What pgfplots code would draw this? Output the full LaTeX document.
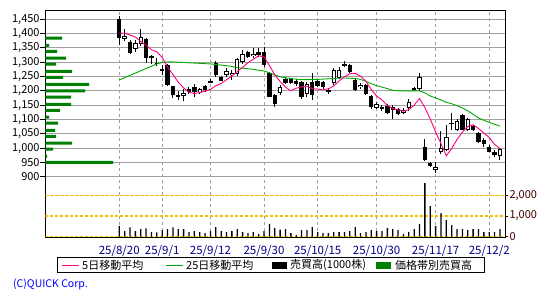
\documentclass[border=0pt]{standalone}
\usepackage{fontspec}
\setmainfont{Noto Sans CJK JP}
\usepackage{pgfplots}
\usepackage{pgfplotstable}
\pgfplotsset{compat=1.18}
\definecolor{ma5}{RGB}{255,0,128}
\definecolor{ma25}{RGB}{0,170,0}
\definecolor{histg}{RGB}{0,128,0}
\definecolor{gridg}{RGB}{160,160,160}
\definecolor{ylw}{RGB}{250,190,0}
\definecolor{datec}{RGB}{0,0,140}
\definecolor{copyc}{RGB}{0,0,255}
\definecolor{volax}{RGB}{64,0,0}
\pgfplotstableread{
x o h l c m5 m25 v
0 1450 1461 1360 1383 1402 1238 515
1 1382 1415 1375 1393 1401 1246 274
2 1372 1378 1328 1333 1395 1254 450
3 1347 1378 1337 1366 1388 1262 274
4 1362 1416 1355 1388 1372.6 1270 370
5 1381 1385 1296 1315 1359 1278 400
6 1321 1325 1295 1317 1343.8 1286 225
7 1299 1315 1287 1295 1336.2 1294 210
8 1276 1290 1255 1269 1316.8 1299 322
9 1290 1295 1218 1220 1283.2 1301 370
10 1216 1218 1175 1186 1257.4 1301 450
11 1185 1198 1168 1182 1230.4 1300 370
12 1181 1208 1165 1194 1210.2 1299 370
13 1206 1212 1188 1195 1195.4 1298 225
14 1212 1225 1178 1195 1190.4 1297 274
15 1195 1210 1190 1205 1194.2 1296 225
16 1217 1222 1195 1203 1198.4 1295 177
17 1234 1240 1226 1228 1205.2 1294 274
18 1297 1303 1250 1257 1217.6 1292 467
19 1249 1252 1233 1236 1225.8 1290 274
20 1254 1280 1248 1270 1238.8 1288 225
21 1255 1272 1238 1264 1251 1285 274
22 1259 1314 1252 1310 1267.4 1281 370
23 1302 1343 1295 1329 1281.8 1279 225
24 1334 1340 1313 1318 1298.2 1277 177
25 1320 1349 1315 1330 1310.2 1275 225
26 1336 1350 1318 1325 1322.4 1272 129
27 1337 1352 1285 1290 1318.4 1269 274
28 1261 1265 1178 1180 1288.6 1263 612
29 1185 1190 1145 1154 1255.8 1256 419
30 1191 1222 1185 1212 1232.2 1249 338
31 1243 1248 1224 1228 1212.8 1246 370
32 1242 1246 1224 1228 1200.4 1243 177
33 1236 1240 1218 1224 1209.2 1241 80
34 1232 1236 1172 1178 1214 1239 322
35 1190 1232 1180 1224 1216.4 1239 322
36 1230 1261 1168 1185 1207.8 1240 467
37 1235 1240 1212 1218 1205.8 1240 225
38 1232 1236 1208 1212 1203.4 1241 177
39 1203 1210 1190 1196 1207 1242 177
40 1228 1280 1222 1273 1216.8 1243 225
41 1246 1282 1240 1274 1234.6 1245 225
42 1294 1304 1285 1290 1249 1245 225
43 1290 1295 1264 1266 1259.8 1244 274
44 1237 1242 1200 1204 1261.4 1243 467
45 1212 1226 1208 1221 1251 1240 177
46 1220 1224 1185 1188 1233.8 1233 225
47 1182 1186 1135 1142 1204.2 1225 322
48 1140 1160 1135 1155 1182 1218 274
49 1142 1150 1128 1136 1168.4 1213 274
50 1148 1155 1120 1124 1149 1208 419
51 1145 1152 1100 1134 1138.2 1202 370
52 1136 1140 1115 1118 1133.4 1200 322
53 1122 1140 1118 1134 1129.2 1200 129
54 1140 1172 1130 1160 1134 1200 225
55 1210 1214 1198 1205 1150.2 1200 370
56 1205 1262 1198 1249 1173.2 1200 612
57 1003 1032 955 958 1141.2 1193 2593
58 949 952 935 936 1101.6 1182 1481
59 924 952 912 935 1056.6 1175 515
60 988 1060 980 1000 1015.6 1168 1143
61 993 1081 990 1037 973.2 1160 805
62 1089 1124 1063 1085 998.6 1155 564
63 1064 1100 1060 1094 1030.2 1148 370
64 1116 1120 1062 1064 1056 1140 370
65 1063 1105 1058 1100 1076 1130 322
66 1077 1080 1060 1064 1081.4 1118 370
67 1052 1055 1018 1020 1068.4 1105 370
68 1028 1035 1005 1014 1052.4 1097 225
69 1005 1010 985 988 1037.2 1090 225
70 988 995 970 977 1012.6 1083 225
71 972 1000 960 996 999 1077 370
}\data
\pgfplotsset{myframe/.style={at={(45.3bp,-237bp)}, anchor=south west, width=460bp, height=226.7bp, scale only axis}}
\begin{document}
\begin{tikzpicture}
\useasboundingbox (0,0) rectangle (550bp,-300bp);
\fill[white] (0,0) rectangle (550bp,-300bp);
\begin{axis}[myframe, xmin=-13.8, xmax=72, ymin=689.3, ymax=1481.4,
  axis line style={black, line width=1bp},
  xtick={0,8,17,27,37,48,59,69},
  xticklabels={25/8/20,25/9/1,25/9/12,25/9/30,25/10/15,25/10/30,25/11/17,25/12/2},
  xtick pos=bottom, ytick pos=left,
  ytick={900,950,...,1450},
  yticklabels={900,950,{1,000},{1,050},{1,100},{1,150},{1,200},{1,250},{1,300},{1,350},{1,400},{1,450}},
  xmajorgrids, ymajorgrids,
  x grid style={gridg, dash pattern=on 3bp off 3bp, line width=0.9bp},
  y grid style={gridg, line width=0.9bp},
  tick align=outside, major tick length=5bp,
  xtick style={draw=none},
  ytick style={black, line width=0.9bp},
  yticklabel style={font=\fontsize{11bp}{13bp}\selectfont, text=black, inner xsep=0.5bp},
  xticklabel style={font=\fontsize{11.5bp}{13bp}\selectfont, text=datec},
]
% wicks
\addplot[draw=none, mark=none, error bars/.cd, y dir=both, y explicit, error mark=none,
  error bar style={draw=black, solid, line width=1bp}]
  table[x=x, y expr={(\thisrow{h}+\thisrow{l})/2}, y error expr={(\thisrow{h}-\thisrow{l})/2}] {\data};
% bodies
\addplot[draw=none, mark=none, error bars/.cd, y dir=both, y explicit, error mark=none,
  error bar style={draw=black, solid, line width=4.4bp}]
  table[x=x, y expr={(\thisrow{o}+\thisrow{c})/2}, y error expr={max(abs(\thisrow{o}-\thisrow{c})/2,1.8)}] {\data};
% white fill of rising candles
\addplot[draw=none, mark=none, error bars/.cd, y dir=both, y explicit, error mark=none,
  error bar style={draw=white, solid, line width=2.4bp}]
  table[x=x, y expr={(\thisrow{o}+\thisrow{c})/2}, y error expr={\thisrow{c}>\thisrow{o} ? max((\thisrow{c}-\thisrow{o})/2-3.5,0) : 0}] {\data};
\addplot[ma25, line width=0.9bp, mark=none] table[x=x, y=m25] {\data};
\addplot[ma5, line width=0.9bp, mark=none] table[x=x, y=m5] {\data};
\end{axis}
\begin{axis}[myframe, hide axis, xmin=0, xmax=460, ymin=689.3, ymax=1481.4]
\addplot[xbar, bar width=3bp, bar shift=0pt, fill=histg, draw=none] coordinates {
(16.7,1384) (3.7,1359) (11.7,1338) (20.7,1314) (10.7,1293) (26.7,1268) (17.7,1247)
(43.7,1223) (39.7,1200) (25.7,1178) (25.7,1153) (14.7,1132) (3.7,1108) (12.7,1087)
(9.7,1062) (10.7,1041) (26.7,1017) (7.7,996) (1.7,971) (67.7,950)};
\end{axis}
\begin{axis}[myframe, xmin=-13.8, xmax=72, ymin=-15, ymax=10937,
  axis x line=none, axis y line*=right,
  axis line style={black, line width=1bp},
  scaled y ticks=false,
  ytick={0,1000,2000}, yticklabels={0,{1,000},{2,000}},
  tick align=outside, major tick length=3bp,
  ytick style={volax, line width=0.9bp},
  yticklabel style={font=\fontsize{11bp}{13bp}\selectfont, text=volax, inner xsep=1bp},
]
\addplot[ylw, line width=1.4bp, dash pattern=on 3bp off 2bp, mark=none] coordinates {(-13.8,2000) (72,2000)};
\addplot[ylw, line width=1.4bp, dash pattern=on 3bp off 2bp, mark=none] coordinates {(-13.8,1000) (72,1000)};
\addplot[ylw, line width=1.4bp, dash pattern=on 3bp off 2bp, mark=none] coordinates {(-13.8,0) (72,0)};
\addplot[ybar, bar width=1.3bp, fill=black, draw=none] table[x=x, y=v] {\data};
\end{axis}
\begin{scope}[x=1bp, y=-1bp, font=\fontsize{11bp}{13bp}\selectfont]
% the upper volume guide line, drawn once more in picture units
\draw[ylw, line width=1.4bp, dash pattern=on 3bp off 2bp] (45.8,195.3) -- (504.8,195.3);
\draw[black, line width=1bp] (57.3,257.7) rectangle (484,272.3);
\draw[ma5, line width=1bp] (62,265) -- (78.5,265);
\node[anchor=west, inner sep=0pt] at (82,265) {5日移動平均};
\draw[ma25, line width=1bp] (166,265) -- (182.7,265);
\node[anchor=west, inner sep=0pt] at (186,265) {25日移動平均};
\fill[black] (271.7,261.5) rectangle (286.7,268.5);
\node[anchor=west, inner sep=0pt] at (290,265) {売買高(1000株)};
\fill[histg] (376,261.5) rectangle (390.7,268.5);
\node[anchor=west, inner sep=0pt] at (395,265) {価格帯別売買高};
\node[anchor=west, inner sep=0pt, text=copyc, font=\fontsize{10.5bp}{12bp}\selectfont] at (13,284.5) {(C)QUICK Corp.};
\end{scope}
\end{tikzpicture}
\end{document}
